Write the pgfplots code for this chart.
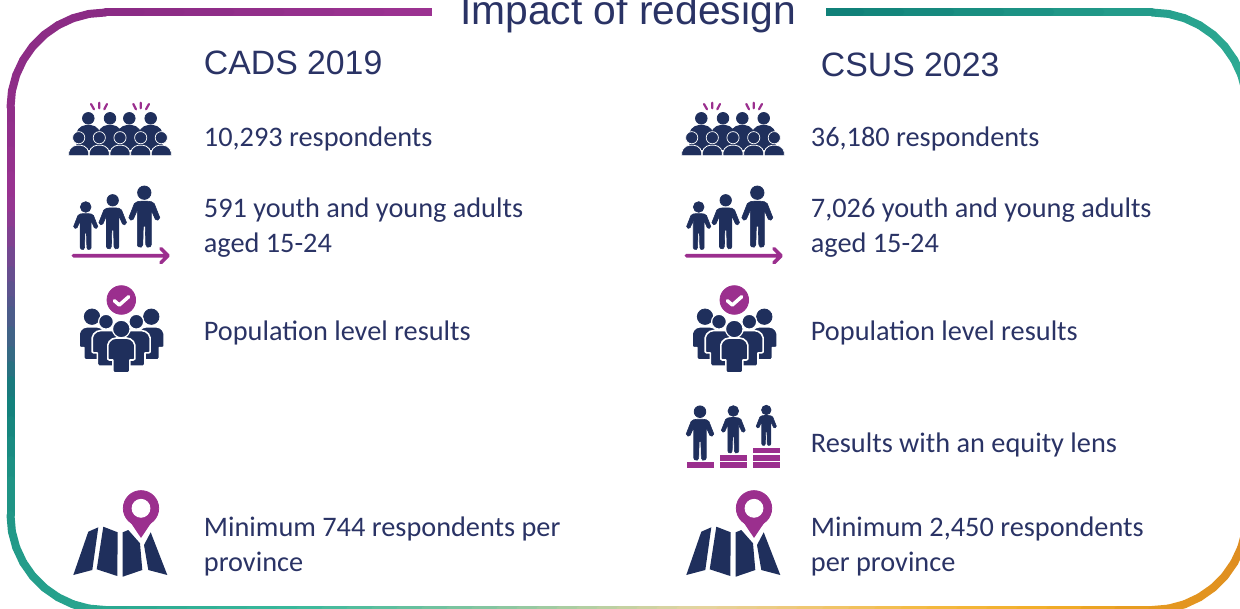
\documentclass[border=0pt]{standalone}
\usepackage{fontspec}
\usepackage{pgfplots}
\usepackage{pgfplotstable}
\pgfplotsset{compat=1.18}
\setmainfont{Liberation Sans}
\newfontfamily\bodyfont{Carlito}
\definecolor{navy}{HTML}{1F2F5C}
\definecolor{ink}{HTML}{2A3365}
\definecolor{mag}{HTML}{9B2F8E}

\pgfplotsset{colormap={frame}{
  rgb255=(156,51,146) rgb255=(138,43,132) rgb255=(154,51,145) rgb255=(109,76,144)
  rgb255=(80,88,140) rgb255=(59,102,134) rgb255=(17,127,123) rgb255=(30,146,132)
  rgb255=(42,168,144) rgb255=(58,185,156) rgb255=(136,198,160) rgb255=(184,208,162)
  rgb255=(228,212,160) rgb255=(238,200,120) rgb255=(243,186,64) rgb255=(242,174,40)
  rgb255=(229,154,32) rgb255=(220,136,32) rgb255=(48,174,150) rgb255=(37,158,140)
  rgb255=(15,128,120)}}

% frame, in image pixels; t picks the colour
\pgfplotstableread{
x y t
440 12.5 0
380 12.5 .16
330 12.5 .31
280 12.5 .47
230 12.5 .62
180 12.5 .77
140 12.5 .89
105.5 12.5 1
89 13.9 1.03
73 18.2 1.06
58 25.2 1.1
44.4 34.7 1.13
32.7 46.4 1.16
23.2 60 1.2
16.2 75 1.23
11.9 91 1.27
10.5 107.5 1.3
10.5 125 1.43
10.5 150 1.6
10.5 175 1.8
10.5 200 2
10.5 215 2.21
10.5 230 2.43
10.5 250 2.71
10.5 270 3
10.5 285 3.38
10.5 300 3.75
10.5 310 4
10.5 330 4.5
10.5 350 5
10.5 365 5.3
10.5 380 5.6
10.5 400 6
10.5 420 6.25
10.5 440 6.5
10.5 460 6.75
10.5 480 7
10.5 515 7.2
11.9 531.5 7.28
16.2 547.5 7.36
23.2 562.5 7.44
32.7 576.1 7.52
44.4 587.8 7.6
58 597.3 7.68
73 604.3 7.76
89 608.6 7.88
105.5 610 8
130 610 8.12
160 610 8.28
190 610 8.43
220 610 8.59
250 610 8.72
280 610 8.9
300 610 9
325 610 9.12
350 610 9.25
375 610 9.38
400 610 9.5
425 610 9.62
450 610 9.75
475 610 9.88
500 610 10
520 610 10.2
540 610 10.4
560 610 10.6
580 610 10.8
600 610 11
620 610 11.2
640 610 11.4
660 610 11.6
680 610 11.8
700 610 12
720 610 12.2
740 610 12.4
760 610 12.6
780 610 12.8
800 610 13
826 610 13.2
852 610 13.4
878 610 13.6
904 610 13.8
930 610 14
960 610 14.25
990 610 14.5
1020 610 14.75
1050 610 15
1084 610 15.33
1118 610 15.67
1152 610 16
1168.5 608.6 16.1
1184.5 604.3 16.2
1199.5 597.3 16.3
1213.1 587.8 16.4
1224.8 576.1 16.5
1234.3 562.5 16.6
1241.3 547.5 16.7
1245.6 531.5 16.85
1247 515 17
}\framea
\pgfplotstableread{
x y t
1247 107.5 18
1245.6 91 18.1
1241.3 75 18.2
1234.3 60 18.3
1224.8 46.4 18.4
1213.1 34.7 18.5
1199.5 25.2 18.6
1184.5 18.2 18.7
1168.5 13.9 18.85
1152 12.5 19
1100 12.5 19.16
1050 12.5 19.31
1000 12.5 19.47
950 12.5 19.62
900 12.5 19.77
860 12.5 19.9
820 12.5 20
}\frameb
\pgfplotstableread{
x y
432 -5
826 -5
826 30
432 30
}\gapbox

% one point, to be moved with the offsets
\pgfplotstableread{
x y
0 0
}\origin
% crowd icon
\pgfplotstableread{
x y
88.3 118.3
110 118.3
129.3 118.3
150.7 118.3
}\crowdback
\pgfplotstableread{
x y
78.7 137.7
99.3 137.7
120 137.7
140.7 137.7
161.3 137.7
}\crowdfront
\pgfplotstableread{
x y
-12 25
-12 8
-10 4
-6.6 1.2
-2.4 0
2.4 0
6.6 1.2
10 4
12 8
12 25
}\backbody
\pgfplotstableread{
x y
-10 10.5
-10 7
-8.5 3.5
-5.5 1
-2 0
2 0
5.5 1
8.5 3.5
10 7
10 10.5
}\dome
\pgfplotstableread{
x y
91 104
94 109.3
nan nan
99.3 102.7
99.3 108.3
nan nan
107 104
104.3 109.3
nan nan
133.3 104
136 109.3
nan nan
140.7 102.7
140.7 108.3
nan nan
149 104
146 109.3
}\ticktable
% standing person, head centre at 0 0
\pgfplotstableread{
x y
-3 8.5
-7 9
-10 11
-15.5 25
-13.5 27.5
-11 26.5
-7 17.5
-7 32
-7 52
-6 54
-3 54.5
-1.5 52
-1 34
0 33
1 34
1.5 52
3 54.5
6 54
7 52
7 32
7 17.5
11 26.5
13.5 27.5
15.5 25
10 11
7 9
3 8.5
}\person
\pgfplotstableread{
x y
73.3 255.7
166 255.7
nan nan
161 248.7
168 255.7
161 262.7
}\growarrow
% group icon
\pgfplotstableread{
x y
-5 0
-9 1
-12 3.5
-13.5 7
-13.5 21
-12 22
-8.5 22
-8.5 33
-7 35
7 35
8.5 33
8.5 22
12 22
13.5 21
13.5 7
12 3.5
9 1
5 0
}\shirt
\pgfplotstableread{
x y
114.3 300.7
119.3 305
128.7 296.7
}\tickmark
% map icon
\pgfplotstableread{
x y
88.3 531.7
98.3 527.3
92.3 570
73.3 575
}\mapa
\pgfplotstableread{
x y
103.3 526.7
117.7 532.3
117.3 576
96.7 569.3
}\mapb
\pgfplotstableread{
x y
122.7 532.3
128.3 530
140 543.3
142.3 570
122.7 576.7
}\mapc
\pgfplotstableread{
x y
150.7 532.3
167.3 575
148.3 570
144 545
}\mapd
\pgfplotstableread{
x y
126.3 518.2
155.7 518.2
141 540
}\pintip
% steps of the equity icon
\pgfplotstableread{
x y
687.3 465.3
714 465.3
nan nan
720 465.3
747.3 465.3
nan nan
720 458
747.3 458
nan nan
753 465.3
779.7 465.3
nan nan
753 458
779.7 458
nan nan
753 450.5
779.7 450.5
}\steptable

% #1 options, #2 table, #3 dx, #4 dy, #5 scale
\newcommand\poly[5]{\addplot[#1] table[x expr=\thisrow{x}*#5+#3, y expr=\thisrow{y}*#5+#4] {#2} -- cycle;}
% #1 options, #2 table, #3 dx, #4 dy
\newcommand\pts[4]{\addplot[only marks, mark=*, #1] table[x expr=\thisrow{x}+#3, y expr=\thisrow{y}+#4] {#2};}
\newcommand\lines[3]{\addplot[#1] table[x expr=\thisrow{x}+#3, y=y] {#2};}
\newcommand\stander[4]{% x, y of head, scale, head radius in pt
  \poly{fill=navy,draw=navy,line width=.3pt,line join=round}{\person}{#1}{#2}{#3}
  \pts{navy,mark size=#4}{\origin}{#1}{#2}}

\newcommand\crowdicon[1]{%
  \lines{mag,line width=1.1pt,line cap=round}{\ticktable}{#1}
  \poly{fill=navy,draw=none}{\backbody}{88.3+#1}{125}{1}
  \poly{fill=navy,draw=none}{\backbody}{110+#1}{125}{1}
  \poly{fill=navy,draw=none}{\backbody}{129.3+#1}{125}{1}
  \poly{fill=navy,draw=none}{\backbody}{150.7+#1}{125}{1}
  \pts{navy,mark size=2.9pt}{\crowdback}{#1}{0}
  \poly{fill=navy,draw=white,line width=.4pt}{\dome}{78.7+#1}{145.2}{1}
  \poly{fill=navy,draw=white,line width=.4pt}{\dome}{99.3+#1}{145.2}{1}
  \poly{fill=navy,draw=white,line width=.4pt}{\dome}{120+#1}{145.2}{1}
  \poly{fill=navy,draw=white,line width=.4pt}{\dome}{140.7+#1}{145.2}{1}
  \poly{fill=navy,draw=white,line width=.4pt}{\dome}{161.3+#1}{145.2}{1}
  \pts{mark size=3.05pt,mark options={fill=navy,draw=white,line width=.35pt}}{\crowdfront}{#1}{0}}

\newcommand\growicon[1]{%
  \stander{85.7+#1}{207}{.78}{2.65pt}
  \stander{112.7+#1}{200.3}{.89}{2.85pt}
  \stander{144.3+#1}{192.7}{1}{3.35pt}
  \lines{mag,line width=1.8pt,line cap=round,line join=round}{\growarrow}{#1}}

\newcommand\groupicon[1]{%
  \pts{navy,mark size=3.85pt}{\origin}{92+#1}{316.7}
  \pts{navy,mark size=3.85pt}{\origin}{151.3+#1}{316.7}
  \poly{fill=navy,draw=white,line width=.8pt,line join=round}{\shirt}{92+#1}{326.7}{.95}
  \poly{fill=navy,draw=white,line width=.8pt,line join=round}{\shirt}{151.3+#1}{326.7}{.95}
  \pts{mark size=3.7pt,mark options={fill=navy,draw=white,line width=.6pt}}{\origin}{106+#1}{321.7}
  \pts{mark size=3.7pt,mark options={fill=navy,draw=white,line width=.6pt}}{\origin}{136.3+#1}{321.7}
  \poly{fill=navy,draw=white,line width=.8pt,line join=round}{\shirt}{106+#1}{330.5}{1.02}
  \poly{fill=navy,draw=white,line width=.8pt,line join=round}{\shirt}{136.3+#1}{330.5}{1.02}
  \poly{fill=navy,draw=white,line width=.8pt,line join=round}{\shirt}{121.3+#1}{338}{1}
  \pts{mark size=4.4pt,mark options={fill=navy,draw=white,line width=.6pt}}{\origin}{121.3+#1}{329}
  \pts{mag,mark size=7.15pt}{\origin}{121.3+#1}{300}
  \lines{white,line width=1.75pt,line cap=round,line join=round}{\tickmark}{#1}}

\newcommand\mapicon[1]{%
  \poly{fill=navy,draw=none}{\mapa}{#1}{0}{1}
  \poly{fill=navy,draw=none}{\mapb}{#1}{0}{1}
  \poly{fill=navy,draw=none}{\mapc}{#1}{0}{1}
  \poly{fill=navy,draw=none}{\mapd}{#1}{0}{1}
  \poly{fill=mag,draw=white,line width=1pt,line join=round}{\pintip}{#1}{0}{1}
  \pts{mag,mark size=8.85pt}{\origin}{141+#1}{508.3}
  \pts{white,mark size=4.5pt}{\origin}{141+#1}{508.3}}

\newcommand\bodytext[3]{\node[anchor=base west,inner sep=0pt,text=ink,
  font=\bodyfont\fontsize{14.15}{16}\selectfont] at (axis cs:#1,#2) {#3};}
\newcommand\headtext[3]{\node[anchor=base west,inner sep=0pt,text=ink,
  font=\fontsize{16.9}{20}\selectfont] at (axis cs:#1,#2) {#3};}

\begin{document}
\begin{tikzpicture}
\begin{axis}[
  name=ax,
  scale only axis,width=620pt,height=304.5pt,
  xmin=0,xmax=1240,ymin=0,ymax=609,y dir=reverse,
  hide axis,clip mode=global,clip marker paths=true,unbounded coords=jump,
  colormap name=frame,point meta min=0,point meta max=20
]
\addplot[mesh,point meta=explicit,line width=4pt,line cap=round] table[x=x,y=y,meta=t] {\framea};
\addplot[mesh,point meta=explicit,line width=4pt,line cap=round] table[x=x,y=y,meta=t] {\frameb};
\poly{fill=white,draw=none}{\gapbox}{0}{0}{1}

\crowdicon{0}
\crowdicon{613}
\growicon{0}
\growicon{613}
\groupicon{0}
\groupicon{613}
\mapicon{0}
\mapicon{613}

% equity icon, right column only
\stander{700}{411.7}{.89}{2.9pt}
\stander{733.3}{411}{.77}{2.65pt}
\stander{766.3}{410}{.65}{2.35pt}
\lines{mag,line width=2.85pt}{\steptable}{0}

\node[anchor=base,inner sep=0pt,text=ink,font=\fontsize{20.4}{24}\selectfont] at (axis cs:628,25) {Impact of redesign};
\headtext{203.5}{75}{CADS 2019}
\headtext{820.5}{77}{CSUS 2023}

\bodytext{203.5}{147}{10,293 respondents}
\bodytext{203.5}{218}{591 youth and young adults}
\bodytext{203.5}{252.5}{aged 15-24}
\bodytext{203.5}{340}{Population level results}
\bodytext{203.5}{536}{Minimum 744 respondents per}
\bodytext{203.5}{571}{province}

\bodytext{810.5}{147}{36,180 respondents}
\bodytext{810.5}{218}{7,026 youth and young adults}
\bodytext{810.5}{252.5}{aged 15-24}
\bodytext{810.5}{340}{Population level results}
\bodytext{810.5}{452}{Results with an equity lens}
\bodytext{810.5}{536}{Minimum 2,450 respondents}
\bodytext{810.5}{571}{per province}
\end{axis}
\pgfresetboundingbox
\path[use as bounding box] (ax.south west) rectangle (ax.north east);
\end{tikzpicture}
\end{document}
